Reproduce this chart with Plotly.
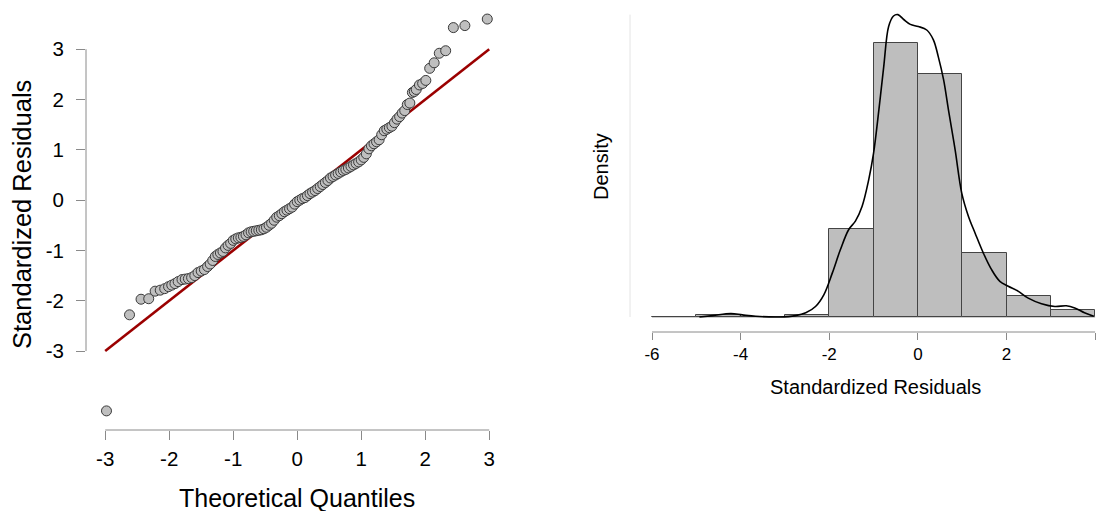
import plotly.graph_objects as go

# ---------------- Q-Q plot data ----------------
qq_theoretical = [
    -2.98, -2.62, -2.44, -2.32, -2.22, -2.14, -2.07, -2.01, -1.96, -1.91,
    -1.86, -1.80, -1.75, -1.70, -1.65, -1.60, -1.55, -1.50, -1.45, -1.40,
    -1.36, -1.32, -1.28, -1.24, -1.20, -1.16, -1.12, -1.08, -1.04, -1.00,
    -0.96, -0.92, -0.88, -0.84, -0.80, -0.76, -0.72, -0.68, -0.64, -0.60,
    -0.56, -0.52, -0.48, -0.44, -0.40, -0.36, -0.32, -0.28, -0.24, -0.20,
    -0.16, -0.12, -0.08, -0.04, 0.00, 0.04, 0.08, 0.12, 0.16, 0.20,
    0.24, 0.28, 0.32, 0.36, 0.40, 0.44, 0.48, 0.52, 0.56, 0.60,
    0.64, 0.68, 0.72, 0.76, 0.80, 0.84, 0.88, 0.92, 0.96, 1.00,
    1.04, 1.08, 1.12, 1.16, 1.20, 1.24, 1.28, 1.32, 1.36, 1.40,
    1.44, 1.48, 1.52, 1.56, 1.60, 1.64, 1.68, 1.72, 1.76, 1.80,
    1.83, 1.86, 1.91, 1.96, 2.01, 2.07, 2.14, 2.22, 2.32, 2.44,
    2.62, 2.97,
]
qq_residuals = [
    -4.19, -2.28, -1.97, -1.96, -1.81, -1.79, -1.76, -1.72, -1.69, -1.66,
    -1.62, -1.58, -1.57, -1.56, -1.54, -1.50, -1.44, -1.41, -1.38, -1.32,
    -1.27, -1.20, -1.12, -1.08, -1.05, -1.02, -0.95, -0.90, -0.86, -0.80,
    -0.77, -0.75, -0.74, -0.72, -0.69, -0.65, -0.63, -0.62, -0.61, -0.60,
    -0.59, -0.57, -0.54, -0.50, -0.46, -0.40, -0.34, -0.31, -0.27, -0.23,
    -0.20, -0.17, -0.14, -0.08, -0.03, 0.00, 0.03, 0.05, 0.09, 0.13,
    0.16, 0.19, 0.23, 0.27, 0.31, 0.35, 0.39, 0.44, 0.47, 0.50,
    0.53, 0.56, 0.59, 0.61, 0.64, 0.67, 0.70, 0.73, 0.76, 0.80,
    0.85, 0.92, 1.02, 1.08, 1.12, 1.16, 1.20, 1.30, 1.38, 1.41,
    1.44, 1.47, 1.54, 1.61, 1.66, 1.73, 1.78, 1.90, 1.93, 2.14,
    2.16, 2.20, 2.29, 2.32, 2.38, 2.62, 2.73, 2.92, 2.97, 3.43,
    3.47, 3.60,
]
ref_line_x = [-3, 3]
ref_line_y = [-3, 3]
qq_xticks = [-3, -2, -1, 0, 1, 2, 3]
qq_yticks = [-3, -2, -1, 0, 1, 2, 3]

# ---------------- Histogram data ----------------
bin_edges = [-6, -5, -4, -3, -2, -1, 0, 1, 2, 3, 4]
bin_density = [0.0, 0.003, 0.0, 0.003, 0.126, 0.392, 0.347, 0.092, 0.0295, 0.010]
kde_x = [
    -4.93, -4.63, -4.22, -3.96, -3.66, -3.13, -2.76, -2.53, -2.31, -2.12,
    -1.93, -1.75, -1.56, -1.41, -1.26, -1.11, -1.00, -0.88, -0.77, -0.66,
    -0.55, -0.45, -0.32, -0.17, 0.01, 0.20, 0.35, 0.46, 0.58, 0.69,
    0.84, 0.99, 1.14, 1.29, 1.48, 1.66, 1.85, 2.04, 2.26, 2.49,
    2.79, 3.09, 3.35, 3.54, 3.76, 3.97,
]
kde_y = [
    0.000, 0.002, 0.005, 0.003, 0.001, 0.000, 0.002, 0.006, 0.015, 0.032,
    0.063, 0.096, 0.125, 0.137, 0.158, 0.196, 0.234, 0.296, 0.358, 0.415,
    0.430, 0.432, 0.425, 0.418, 0.415, 0.410, 0.396, 0.372, 0.339, 0.296,
    0.239, 0.177, 0.144, 0.120, 0.091, 0.068, 0.051, 0.044, 0.037, 0.027,
    0.019, 0.015, 0.016, 0.013, 0.006, 0.001,
]
hist_xticks = [-6, -4, -2, 0, 2, 4]

# ---------------- Layout geometry ----------------
W, H = 1096, 511
FONT = "Liberation Sans, Arial, sans-serif"
AXIS_GRAY = "#8a8a8a"

def px_x(p):
    return p / W

def px_y(p):
    return 1 - p / H

fig = go.Figure()

# Reference line
fig.add_trace(go.Scatter(
    x=ref_line_x, y=ref_line_y, mode="lines",
    line=dict(color="#9b0000", width=2.6),
    xaxis="x", yaxis="y", hoverinfo="skip", showlegend=False,
))
# Q-Q points
fig.add_trace(go.Scatter(
    x=qq_theoretical, y=qq_residuals, mode="markers",
    marker=dict(size=10, color="#bfbfbf", line=dict(color="#3a3a3a", width=1)),
    xaxis="x", yaxis="y", showlegend=False,
))

# Histogram bars
centers = [(a + b) / 2 for a, b in zip(bin_edges[:-1], bin_edges[1:])]
widths = [b - a for a, b in zip(bin_edges[:-1], bin_edges[1:])]
fig.add_trace(go.Bar(
    x=centers, y=bin_density, width=widths,
    marker=dict(color="#bebebe", line=dict(color="#444444", width=1)),
    xaxis="x2", yaxis="y2", showlegend=False,
))
# Density curve
fig.add_trace(go.Scatter(
    x=kde_x, y=kde_y, mode="lines", line=dict(color="black", width=1.6, shape="spline"),
    xaxis="x2", yaxis="y2", showlegend=False, hoverinfo="skip",
))

shapes = [
    # left x axis line (spans tick range)
    dict(type="line", xref="x", yref="y domain", x0=min(qq_xticks), x1=max(qq_xticks),
         y0=0, y1=0, line=dict(color=AXIS_GRAY, width=1)),
    # left y axis line
    dict(type="line", xref="x domain", yref="y", x0=0, x1=0,
         y0=min(qq_yticks), y1=max(qq_yticks), line=dict(color=AXIS_GRAY, width=1)),
    # right x axis line
    dict(type="line", xref="x2", yref="paper", x0=min(hist_xticks), x1=max(hist_xticks),
         y0=px_y(332), y1=px_y(332), line=dict(color=AXIS_GRAY, width=1)),
    # histogram baseline
    dict(type="line", xref="x2", yref="y2", x0=bin_edges[0], x1=bin_edges[-1],
         y0=0, y1=0, line=dict(color="#a0a0a0", width=1), layer="below"),
    # faint density axis
    dict(type="line", xref="x2 domain", yref="y2", x0=0, x1=0,
         y0=0, y1=max(kde_y), line=dict(color="#e4e4e4", width=1)),
]

def title_ann(text, x, y, size, angle=0):
    return dict(text=text, xref="paper", yref="paper", textangle=angle,
                x=px_x(x), y=px_y(y), xanchor="center", yanchor="middle",
                showarrow=False, font=dict(size=size, color="black", family=FONT))

annotations = [
    title_ann("Theoretical Quantiles", 297, 498, 25),
    title_ann("Standardized Residuals", 22, 215, 25.5, -90),
    title_ann("Standardized Residuals", 875, 387, 20),
    title_ann("Density", 601, 167, 20, -90),
]

fig.update_layout(
    width=W, height=H,
    margin=dict(l=0, r=0, t=0, b=0),
    paper_bgcolor="white", plot_bgcolor="white",
    font=dict(family=FONT, color="black"),
    showlegend=False,
    bargap=0,
    xaxis=dict(
        domain=[px_x(86), px_x(502)], range=[-3.30, 3.20], anchor="y",
        tickmode="array", tickvals=qq_xticks, ticktext=[str(v) for v in qq_xticks],
        ticks="outside", ticklen=9, tickcolor=AXIS_GRAY, tickwidth=1,
        showline=False, showgrid=False, zeroline=False,
        tickfont=dict(size=20.5, color="black"), ticklabelstandoff=1,
    ),
    yaxis=dict(
        domain=[px_y(430), px_y(10)], range=[-4.57, 3.78], anchor="x",
        tickmode="array", tickvals=qq_yticks, ticktext=[str(v) for v in qq_yticks],
        ticks="outside", ticklen=9, tickcolor=AXIS_GRAY, tickwidth=1,
        showline=False, showgrid=False, zeroline=False,
        tickfont=dict(size=20.5, color="black"), ticklabelstandoff=8,
    ),
    xaxis2=dict(
        domain=[px_x(630), 1.0], range=[-6.497, 4.02], anchor="free", position=px_y(332),
        tickmode="array", tickvals=hist_xticks, ticktext=[str(v) for v in hist_xticks],
        ticks="outside", ticklen=7, tickcolor=AXIS_GRAY, tickwidth=1,
        showline=False, showgrid=False, zeroline=False,
        tickfont=dict(size=17, color="black"), ticklabelstandoff=0,
    ),
    yaxis2=dict(
        domain=[px_y(322), px_y(10)], range=[-0.00714, 0.43857], anchor="x2",
        showticklabels=False, ticks="", showline=False, showgrid=False, zeroline=False,
    ),
    shapes=shapes,
    annotations=annotations,
)

fig.write_html("out.html", config={"displayModeBar": False},
               post_script="document.body.style.margin='0';")
